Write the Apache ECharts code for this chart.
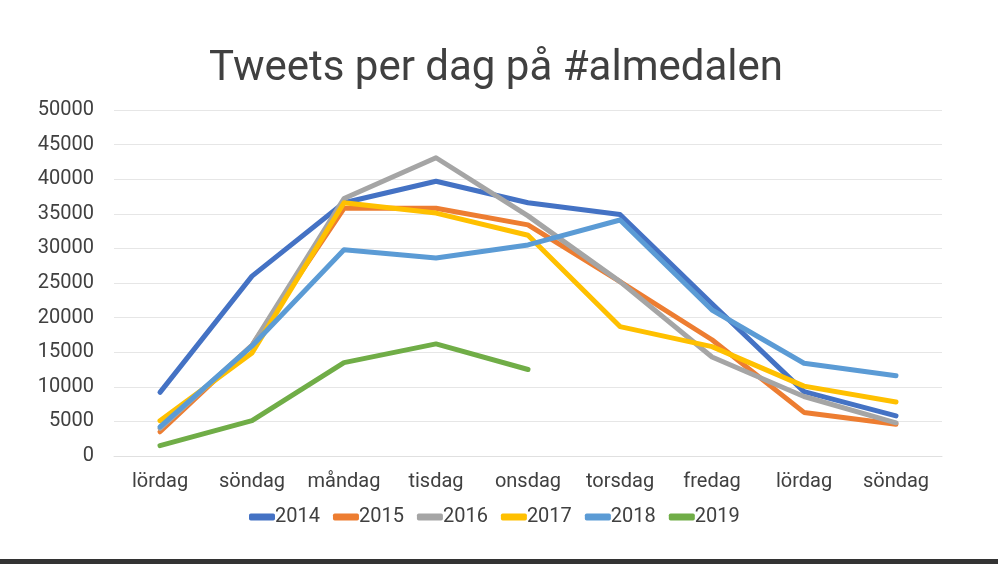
<!DOCTYPE html>
<html>
<head>
<meta charset="utf-8">
<script src="https://cdn.jsdelivr.net/npm/echarts@6/dist/echarts.min.js"></script>
<style>
    html, body { margin: 0; padding: 0; background: #fff; }
    #chart { width: 998px; height: 564px; }
</style>
</head>
<body>
<div id="chart"></div>
<script>
// kategorier (dagar under almedalsveckan)
const days = ['lördag', 'söndag', 'måndag', 'tisdag', 'onsdag', 'torsdag', 'fredag', 'lördag', 'söndag'];
const years = ['2014', '2015', '2016', '2017', '2018', '2019'];
const colors = ['#4472C4', '#ED7D31', '#A5A5A5', '#FFC000', '#5B9BD5', '#70AD47'];

// tweets per dag
const y2014 = [9200, 26000, 36600, 39700, 36600, 34900, 22000, 9300, 5800];
const y2015 = [3500, 16000, 35800, 35800, 33400, 25200, 16800, 6300, 4600];
const y2016 = [4000, 16000, 37200, 43100, 34700, 25200, 14300, 8600, 4800];
const y2017 = [5100, 14900, 36600, 35100, 31900, 18700, 15800, 10100, 7800];
const y2018 = [4200, 15900, 29800, 28600, 30500, 34100, 21100, 13400, 11600];
const y2019 = [1500, 5100, 13500, 16200, 12500, null, null, null, null];

const seriesData = [y2014, y2015, y2016, y2017, y2018, y2019];

let myChart = echarts.init(document.getElementById('chart'));
let option = {
    animation: false,
    color: colors,
    textStyle: { fontFamily: 'Roboto' },
    title: {
        text: 'Tweets per dag på #almedalen',
        left: 204,
        top: 43,
        textStyle: {
            color: '#404040',
            fontSize: 42,
            fontWeight: 'normal',
            fontFamily: 'Roboto'
        }
    },
    legend: {
        top: 502,
        left: 244,
        itemWidth: 26,
        itemHeight: 7,
        itemGap: 13,
        icon: 'roundRect',
        textStyle: { color: '#404040', fontSize: 20, padding: [0, 0, 0, -5] },
        data: years
    },
    grid: {
        left: 114,
        right: 56,
        top: 110,
        bottom: 108
    },
    xAxis: {
        type: 'category',
        data: days,
        axisLine: { show: true, lineStyle: { color: '#e0e0e0' } },
        axisTick: { show: false },
        axisLabel: { color: '#404040', fontSize: 20, margin: 16, interval: 0 }
    },
    yAxis: {
        type: 'value',
        min: 0,
        max: 50000,
        interval: 5000,
        axisLine: { show: false },
        axisTick: { show: false },
        axisLabel: { color: '#404040', fontSize: 20, margin: 20, formatter: v => String(v) },
        splitLine: { lineStyle: { color: '#e6e6e6', width: 1 } }
    },
    series: years.map((name, i) => ({
        name: name,
        type: 'line',
        data: seriesData[i],
        symbol: 'none',
        lineStyle: { width: 5, cap: 'round', join: 'round' },
        connectNulls: false
    })),
    graphic: [
        {
            type: 'rect',
            left: 0,
            bottom: 0,
            shape: { width: 998, height: 5 },
            style: { fill: '#333333' }
        }
    ]
};
myChart.setOption(option);
</script>
</body>
</html>
